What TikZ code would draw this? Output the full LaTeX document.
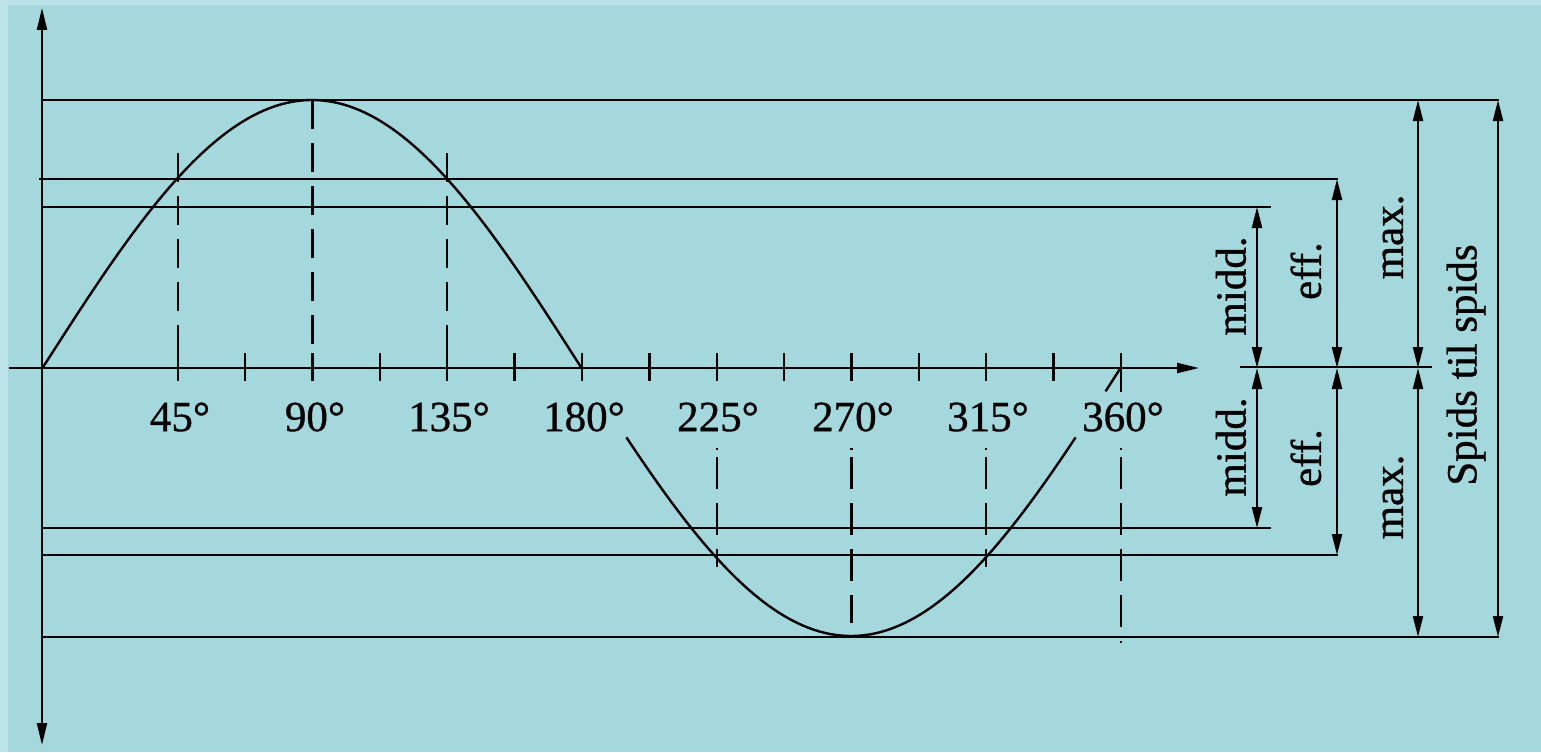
\documentclass[tikz,border=0pt]{standalone}
\usepackage{fontspec}
\setmainfont{Liberation Serif}
\newfontfamily\labfont[FakeBold=0.8]{Liberation Serif}
\usetikzlibrary{arrows.meta}
\definecolor{bgmain}{RGB}{164,216,221}
\definecolor{bgedge}{RGB}{188,227,231}
\begin{document}
\begin{tikzpicture}[x=1pt,y=-1pt,
  line/.style={line width=2.3pt, black},
  dim/.style={line width=2.3pt, {Triangle[length=21pt,width=10pt]}-{Triangle[length=21pt,width=10pt]}},
  dashup/.style={line width=2.3pt, dash pattern=on 29pt off 14pt},
  dashlo/.style={line width=2.3pt, dash pattern=on 32pt off 14pt},
  curve/.style={line width=2.4pt},
  deg/.style={font=\labfont\fontsize{43}{50}\selectfont, inner sep=0pt},
  vlab/.style={font=\labfont\fontsize{43}{50}\selectfont, rotate=90, inner sep=0pt}]
\useasboundingbox (0,0) rectangle (1541,752);
\fill[bgedge] (0,0) rectangle (1541,752);
\fill[bgmain] (8,5) rectangle (1541,752);

% axes
\coordinate (ytop) at (42,8);
\coordinate (ybot) at (42,745);
\coordinate (xleft) at (9,368);
\coordinate (xright) at (1199,368);
\draw[line,{Triangle[length=22pt,width=10pt]}-{Triangle[length=22pt,width=10pt]}] (ybot) -- (ytop);
\draw[line,-{Triangle[length=22pt,width=10pt]}] (xleft) -- (xright);
\coordinate (raL) at (1240,367);
\coordinate (raR) at (1432,367);
\draw[line] (raL) -- (raR);

% level lines
\coordinate (maxTL) at (42,100);   \coordinate (maxTR) at (1499,100);
\coordinate (effTL) at (39,179);   \coordinate (effTR) at (1338,179);
\coordinate (midTL) at (42,207);   \coordinate (midTR) at (1271,207);
\coordinate (midBL) at (42,528);   \coordinate (midBR) at (1271,528);
\coordinate (effBL) at (42,555);   \coordinate (effBR) at (1338,555);
\coordinate (maxBL) at (42,637);   \coordinate (maxBR) at (1499,637);
\draw[line] (maxTL) -- (maxTR);
\draw[line] (effTL) -- (effTR);
\draw[line] (midTL) -- (midTR);
\draw[line] (midBL) -- (midBR);
\draw[line] (effBL) -- (effBR);
\draw[line] (maxBL) -- (maxBR);

% dimension arrows
\coordinate (mA) at (1257,207); \coordinate (mB) at (1257,368); \coordinate (mC) at (1257,528);
\coordinate (eA) at (1337,179); \coordinate (eB) at (1337,368); \coordinate (eC) at (1337,555);
\coordinate (xA) at (1418,100); \coordinate (xB) at (1418,368); \coordinate (xC) at (1418,637);
\coordinate (sA) at (1498,100); \coordinate (sC) at (1498,637);
\draw[dim] (mA) -- (mB);
\draw[dim] (mB) -- (mC);
\draw[dim] (eA) -- (eB);
\draw[dim] (eB) -- (eC);
\draw[dim] (xA) -- (xB);
\draw[dim] (xB) -- (xC);
\draw[dim] (sA) -- (sC);

% ticks
\foreach \k in {2,...,15}{
  \draw[line] ({43+\k*67.375},353) -- ({43+\k*67.375},381);
}
\draw[line] (1121,353) -- (1121,392);

% dashed guide lines (upper)
\draw[dashup] (177.75,153) -- (177.75,368);
\draw[dashup] (312.5,100) -- (312.5,368);
\draw[dashup] (447.25,153) -- (447.25,368);
% dashed guide lines (lower)
\foreach \xx/\yy in {716.75/567, 851.5/623, 986.25/567, 1121/643}{
  \draw[line width=2.3pt] (\xx,447.5) -- (\xx,450);
  \draw[dashlo] (\xx,457) -- (\xx,\yy);
}

% sine curve
\draw[curve] plot[domain=0:180,samples=120,smooth] ({42.5+2.9945*\x},{368-268*sin(\x)});
\draw[curve] plot[domain=195:345,samples=120,smooth] ({42.5+2.9945*\x},{368-268*sin(\x)});
\draw[curve] plot[domain=355:360,samples=10] ({42.5+2.9945*\x},{368-268*sin(\x)});

% degree labels
\node[deg] (l45)  at (180,417)  {45°};
\node[deg] (l90)  at (315,417)  {90°};
\node[deg] (l135) at (449,417)  {135°};
\node[deg] (l180) at (584,417)  {180°};
\node[deg] (l225) at (718,417)  {225°};
\node[deg] (l270) at (853,417)  {270°};
\node[deg] (l315) at (988,417)  {315°};
\node[deg] (l360) at (1123,417) {360°};

% vertical labels
\node[vlab] (tmidd) at (1231,286) {midd.};
\node[vlab] (teff)  at (1306,271) {eff.};
\node[vlab] (tmax)  at (1393,237) {max.};
\node[vlab] (tspids) at (1466,365) {Spids til spids};
\node[vlab] (bmidd) at (1231,447) {midd.};
\node[vlab] (beff)  at (1306,458) {eff.};
\node[vlab] (bmax)  at (1393,497) {max.};
\end{tikzpicture}
\end{document}
